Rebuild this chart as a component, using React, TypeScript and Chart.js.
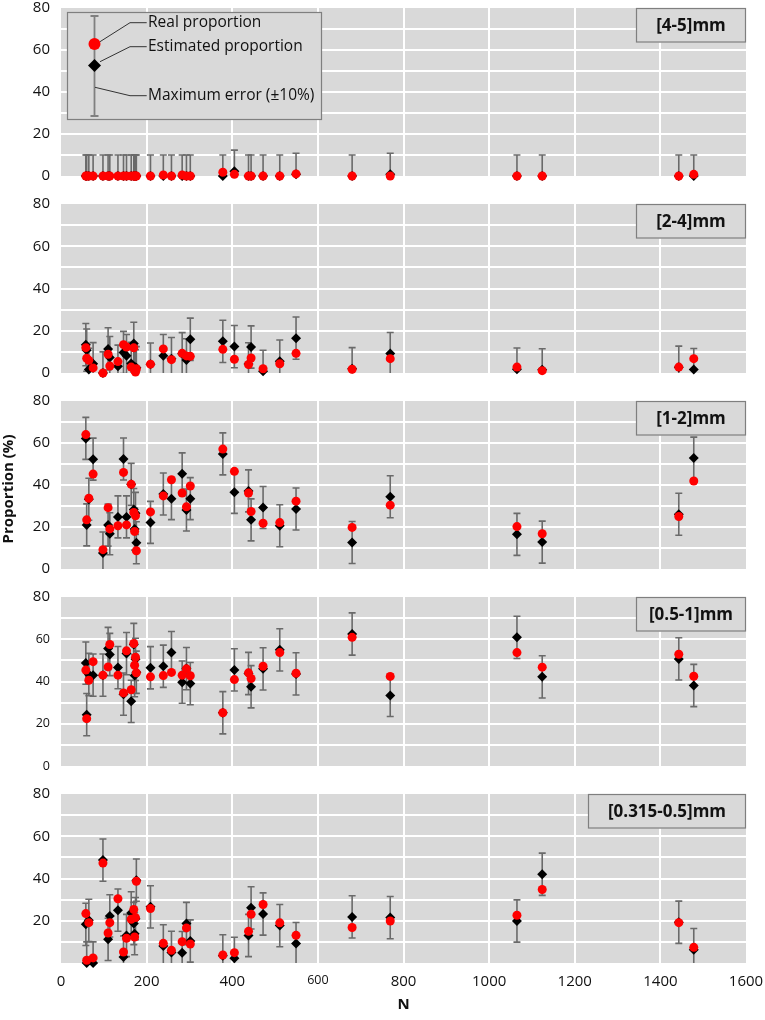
import React, { useEffect, useRef } from 'react';
import { Chart, registerables } from 'chart.js';

Chart.register(...registerables);
Chart.defaults.font.family = "'Open Sans', sans-serif";

// ---------- data ----------
const sampleN = [58, 60, 65, 75, 98, 110, 114, 133, 146, 153, 164, 170, 172, 174, 176, 209, 239, 258, 283, 293, 302, 378, 405, 438, 444, 472, 511, 549, 680, 769, 1065, 1124, 1443, 1478];

const est45 = [0, 0, 0, 0, 0, 0, 0, 0, 0, 0, 0, 0, 0, 0, 0, 0, 0, 0, 0, 0, 0, 0, 2.3, 0, 0, 0, 0, 0.8, 0, 0.8, 0, 0, 0, 0];
const real45 = [0, 0, 0, 0, 0, 0, 0, 0, 0, 0, 0, 0, 0, 0, 0, 0, 0.5, 0, 0.5, 0, 0, 1.8, 0.8, 0, 0, 0, 0, 1, 0, 0, 0, 0, 0, 0.8];

const est24 = [13.4, 10.8, 1.7, 4.4, 0, 11.4, 7.3, 3.2, 9.7, 8.2, 4.5, 14, 3, 1, 2.5, 4.2, 8.2, 6.8, 9.1, 6.2, 16, 15, 12.5, 4.3, 12.3, 0.8, 5.6, 16.5, 2, 9.2, 1.8, 1.5, 2.7, 1.6];
const real24 = [12, 7, 6, 2.4, 0, 8.9, 3.3, 5.4, 13.4, 12.3, 2.8, 11.9, 1.3, 0.5, 2, 4.2, 11.4, 6.3, 9.3, 8.1, 7.9, 11.2, 6.5, 4, 7.1, 2, 4.4, 9.3, 1.8, 6.8, 2.8, 1.1, 2.8, 6.8];

const est12 = [62.2, 21, 33.2, 52.3, 7.6, 20.9, 16.8, 24.8, 52.4, 24.8, 40.3, 28.3, 19, 26.5, 12.5, 22.2, 35.7, 33.5, 45.3, 28.1, 33.5, 54.8, 36.5, 37.2, 23.4, 29.3, 20.6, 28.6, 12.6, 34.4, 16.5, 12.8, 26.1, 52.8];
const real12 = [64, 23.4, 33.7, 45.2, 9.2, 29.2, 19.1, 20.6, 46, 21, 40.3, 26.9, 17.9, 25.3, 8.7, 27.2, 34.8, 42.5, 36.2, 29.6, 39.5, 57.1, 46.5, 36.2, 27.4, 21.8, 22.1, 32.3, 19.8, 30.4, 20.2, 16.8, 25, 41.9];

const est051 = [48.7, 24.3, 43.3, 43, 43, 55.6, 52.8, 46.6, 34, 53.2, 30.6, 57.5, 42.8, 50.5, 44.4, 46.5, 47.2, 53.7, 39.7, 46.1, 39, 25.2, 45.5, 43.8, 37.5, 46, 55, 43.6, 62.5, 33.4, 60.9, 42.2, 50.7, 38.1];
const real051 = [45.4, 22.4, 40.6, 49.4, 43, 46.9, 57.5, 43, 34.6, 54.5, 36.1, 58, 47.7, 51.5, 44.1, 42.2, 42.8, 44.3, 43, 46, 42.7, 25.2, 40.9, 44.1, 41.4, 47.2, 53.7, 43.9, 60.9, 42.4, 53.7, 46.8, 52.9, 42.5];

const est0315 = [18.3, 0, 20.2, 0, 48.7, 11.2, 22.3, 25, 2.8, 13, 23.7, 18.7, 13.9, 21, 39.2, 26.6, 8.1, 5, 4.9, 18.7, 10.4, 3.4, 2.2, 13, 26.1, 23.2, 17.7, 9.2, 21.8, 21.5, 19.9, 42, 19.3, 6.3];
const real0315 = [23.4, 1.3, 19.1, 2.4, 47.3, 14.2, 19.1, 30.4, 5.2, 11.7, 20.7, 25.3, 12.3, 21.5, 38.7, 25.8, 9.3, 6, 10.1, 16.6, 9, 3.8, 4.9, 15, 23.1, 27.7, 19, 13.1, 16.8, 19.9, 22.6, 34.8, 19.1, 7.4];

const panelLabels = ['[4-5]mm', '[2-4]mm', '[1-2]mm', '[0.5-1]mm', '[0.315-0.5]mm'];
const panelEst = [est45, est24, est12, est051, est0315];
const panelReal = [real45, real24, real12, real051, real0315];
const maxError = 10;

const legendLabels = ['Real proportion', 'Estimated proportion', 'Maximum error (\u00b110%)'];
const yTitle = 'Proportion (%)';
const xTitle = 'N';

// ---------- layout ----------
const PLOT_TOP = [8, 204, 401, 597, 794];
const PLOT_BOTTOM = [176, 373, 569, 766, 963];
const PAD = 22;
const X_AXIS_H = 57;
const BOX_W = [110, 110, 110, 110, 158];

const BG = '#d9d9d9';
const ERR = '#6a6a6a';

const bgPlugin = {
  id: 'bgPlugin',
  beforeDraw(chart: any) {
    const { ctx, chartArea: a } = chart;
    ctx.save();
    ctx.fillStyle = BG;
    ctx.fillRect(a.left, a.top, a.right - a.left, a.bottom - a.top);
    ctx.restore();
  },
};

const errorPlugin = {
  id: 'errorPlugin',
  beforeDatasetsDraw(chart: any) {
    const { ctx, chartArea: a, scales } = chart;
    const ds = chart.data.datasets[1];
    ctx.save();
    ctx.beginPath();
    ctx.rect(a.left, a.top, a.right - a.left, a.bottom - a.top);
    ctx.clip();
    ctx.strokeStyle = ERR;
    ctx.lineWidth = 1.6;
    ds.data.forEach((p: any) => {
      const x = scales.x.getPixelForValue(p.x);
      const y1 = scales.y.getPixelForValue(p.y + maxError);
      const y0 = scales.y.getPixelForValue(p.y - maxError);
      ctx.beginPath();
      ctx.moveTo(x, y0);
      ctx.lineTo(x, y1);
      ctx.moveTo(x - 3.5, y1);
      ctx.lineTo(x + 3.5, y1);
      ctx.moveTo(x - 3.5, y0);
      ctx.lineTo(x + 3.5, y0);
      ctx.stroke();
    });
    ctx.restore();
  },
};

function makeAnnotPlugin(idx: number) {
  return {
    id: 'annot' + idx,
    afterDraw(chart: any) {
      const { ctx, chartArea: a } = chart;
      ctx.save();
      // label box
      const w = BOX_W[idx];
      const h = 34.5;
      ctx.fillStyle = BG;
      ctx.fillRect(a.right - w, a.top, w, h);
      ctx.strokeStyle = '#7f7f7f';
      ctx.lineWidth = 1.2;
      ctx.strokeRect(a.right - w + 0.5, a.top + 0.5, w - 1, h - 1);
      ctx.fillStyle = '#111';
      ctx.font = "bold 17px 'Open Sans', sans-serif";
      ctx.textAlign = 'center';
      ctx.textBaseline = 'middle';
      ctx.fillText(panelLabels[idx], a.right - w / 2, a.top + h / 2 + 1);

      if (idx === 0) {
        const ox = a.left;
        const oy = a.top;
        ctx.fillStyle = BG;
        ctx.fillRect(ox + 6, oy + 4, 255, 108);
        ctx.strokeStyle = '#7f7f7f';
        ctx.lineWidth = 1.2;
        ctx.strokeRect(ox + 6.5, oy + 4.5, 254, 107);
        const ex = ox + 33.5;
        ctx.strokeStyle = '#808080';
        ctx.lineWidth = 1.8;
        ctx.beginPath();
        ctx.moveTo(ex, oy + 8);
        ctx.lineTo(ex, oy + 108);
        ctx.moveTo(ex - 4, oy + 8);
        ctx.lineTo(ex + 4, oy + 8);
        ctx.moveTo(ex - 4, oy + 108);
        ctx.lineTo(ex + 4, oy + 108);
        ctx.stroke();
        // leader lines
        ctx.strokeStyle = '#333';
        ctx.lineWidth = 1;
        const leads = [
          [39, 33.7, 69, 14.7, 85.7],
          [39, 53.7, 69, 38.7, 85.7],
          [34, 79.3, 69, 87.7, 85.7],
        ];
        leads.forEach((l) => {
          ctx.beginPath();
          ctx.moveTo(ox + l[0], oy + l[1]);
          ctx.lineTo(ox + l[2], oy + l[3]);
          ctx.lineTo(ox + l[4], oy + l[3]);
          ctx.stroke();
        });
        // red circle
        ctx.fillStyle = '#ff0000';
        ctx.beginPath();
        ctx.arc(ex, oy + 36, 6, 0, Math.PI * 2);
        ctx.fill();
        // diamond
        ctx.fillStyle = '#000';
        const dy = oy + 57.5;
        const r = 6.5;
        ctx.beginPath();
        ctx.moveTo(ex - r, dy);
        ctx.lineTo(ex, dy - r);
        ctx.lineTo(ex + r, dy);
        ctx.lineTo(ex, dy + r);
        ctx.closePath();
        ctx.fill();
        ctx.fillStyle = '#111';
        ctx.font = "15.5px 'Open Sans', sans-serif";
        ctx.textAlign = 'left';
        ctx.textBaseline = 'middle';
        leads.forEach((l, i) => {
          ctx.fillText(legendLabels[i], ox + 87, oy + l[3]);
        });
      }
      if (idx === 2) {
        ctx.save();
        ctx.translate(9, 489 - (PLOT_TOP[2] - PAD));
        ctx.rotate(-Math.PI / 2);
        ctx.fillStyle = '#111';
        ctx.font = "bold 15px 'Open Sans', sans-serif";
        ctx.textAlign = 'center';
        ctx.textBaseline = 'middle';
        ctx.fillText(yTitle, 0, 0);
        ctx.restore();
      }
      ctx.restore();
    },
  };
}

function Panel({ idx }: { idx: number }) {
  const ref = useRef<HTMLCanvasElement | null>(null);
  const isLast = idx === 4;
  const plotH = PLOT_BOTTOM[idx] - PLOT_TOP[idx];
  const bottomExtra = isLast ? X_AXIS_H : PAD;
  const height = PAD + plotH + bottomExtra;

  useEffect(() => {
    const canvas = ref.current;
    if (!canvas) return;
    const est = panelEst[idx];
    const real = panelReal[idx];
    const chart = new Chart(canvas, {
      type: 'scatter',
      data: {
        datasets: [
          {
            label: legendLabels[0],
            data: sampleN.map((n, i) => ({ x: n, y: real[i] })),
            pointStyle: 'circle',
            pointRadius: 4.5,
            pointHoverRadius: 4.5,
            backgroundColor: '#ff0000',
            borderColor: '#ff0000',
            borderWidth: 0,
            clip: false,
          },
          {
            label: legendLabels[1],
            data: sampleN.map((n, i) => ({ x: n, y: est[i] })),
            pointStyle: 'rectRot',
            pointRadius: 5,
            pointHoverRadius: 5,
            backgroundColor: '#000',
            borderColor: '#000',
            borderWidth: 0,
            clip: false,
          },
        ],
      },
      options: {
        responsive: false,
        animation: false,
        devicePixelRatio: 1,
        events: [],
        layout: { padding: { top: PAD, right: 19, bottom: isLast ? 0 : PAD, left: 0 } },
        plugins: { legend: { display: false }, tooltip: { enabled: false } },
        scales: {
          x: {
            type: 'linear',
            min: 0,
            max: 1600,
            ticks: {
              display: isLast,
              stepSize: 200,
              padding: 10,
              color: '#111',
              maxRotation: 0,
              font: (c: any) => (c.tick && c.tick.value === 600 ? { size: 12.5 } : { size: 15 }),
              callback: (v: any) => String(v),
            },
            grid: {
              color: (c: any) => (c.tick && (c.tick.value === 0 || c.tick.value === 1600) ? 'rgba(0,0,0,0)' : '#ffffff'),
              lineWidth: 2,
              drawTicks: false,
            },
            border: { display: false },
            title: {
              display: isLast,
              text: xTitle,
              color: '#111',
              font: { size: 15, weight: 'bold' },
              padding: { top: 0, bottom: 6 },
            },
            afterFit: (s: any) => {
              s.height = isLast ? X_AXIS_H : 0;
              s.paddingLeft = 0;
              s.paddingRight = 0;
            },
          },
          y: {
            min: 0,
            max: 80,
            ticks: {
              stepSize: 10,
              padding: 11,
              color: '#111',
              font: (c: any) => (idx === 3 && c.tick && c.tick.value !== 80 ? { size: 12.5 } : { size: 15 }),
              callback: (v: any) => {
                if (v % 20 !== 0) return '';
                if (isLast && v === 0) return '';
                return String(v);
              },
            },
            grid: {
              color: (c: any) => (c.tick && (c.tick.value === 0 || c.tick.value === 80) ? 'rgba(0,0,0,0)' : '#ffffff'),
              lineWidth: 2,
              drawTicks: false,
            },
            border: { display: false },
            afterFit: (s: any) => {
              s.width = 61;
            },
          },
        },
      },
      plugins: [bgPlugin, errorPlugin, makeAnnotPlugin(idx)],
    } as any);
    return () => chart.destroy();
  }, [idx]);

  return (
    <canvas
      ref={ref}
      width={765}
      height={height}
      style={{ position: 'absolute', left: 0, top: PLOT_TOP[idx] - PAD, width: 765, height }}
    />
  );
}

export default function App() {
  return (
    <div style={{ position: 'absolute', left: 0, top: 0, width: 765, height: 1020, background: '#fff', overflow: 'hidden' }}>
      {[0, 1, 2, 3, 4].map((i) => (
        <Panel key={i} idx={i} />
      ))}
    </div>
  );
}
